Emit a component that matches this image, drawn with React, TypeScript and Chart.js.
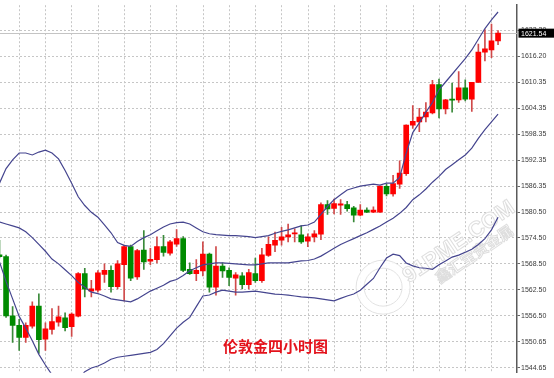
import React, { useEffect, useRef } from "react";
import { Chart, registerables } from "chart.js";

Chart.register(...registerables);

// ---- Data (London gold, 4-hour candles) ----
const opens = [
  1570.71, 1570.31, 1556.76, 1554.53, 1551.76, 1554.37, 1558.99, 1551.36, 1553.63, 1555.26,
  1556.27, 1554.26, 1556.67, 1566.41, 1562.40, 1562.62, 1566.25, 1567.15, 1563.44, 1568.48,
  1572.59, 1565.67, 1571.83, 1569.24, 1569.60, 1572.59, 1571.09, 1573.17, 1574.44, 1567.37,
  1566.41, 1567.01, 1570.87, 1563.29, 1568.13, 1567.15, 1565.36, 1565.90, 1563.89, 1566.41,
  1564.78, 1570.58, 1572.94, 1574.06, 1574.82, 1575.49, 1575.33, 1573.83, 1574.82, 1575.44,
  1582.24, 1581.35, 1582.09, 1582.24, 1581.51, 1579.79, 1580.97, 1580.52, 1580.52, 1586.41,
  1584.69, 1586.92, 1589.31, 1600.46, 1601.19, 1602.31, 1603.27, 1609.73, 1604.16, 1606.39,
  1606.26, 1609.00, 1606.39, 1610.27, 1617.18, 1617.69, 1619.77,
];
const highs = [
  1574.06, 1570.65, 1558.83, 1555.93, 1555.11, 1559.94, 1561.79, 1555.11, 1558.38, 1558.94,
  1557.42, 1557.42, 1566.63, 1567.64, 1564.85, 1567.08, 1568.64, 1568.19, 1569.38, 1572.94,
  1572.94, 1571.98, 1576.29, 1572.21, 1574.82, 1575.17, 1574.06, 1576.51, 1574.88, 1568.86,
  1569.60, 1573.70, 1571.09, 1572.59, 1568.86, 1567.75, 1566.63, 1566.63, 1567.37, 1569.98,
  1572.21, 1574.82, 1575.93, 1577.05, 1577.78, 1576.67, 1577.40, 1575.55, 1576.29, 1582.62,
  1583.13, 1583.51, 1583.36, 1582.98, 1581.86, 1582.24, 1581.51, 1581.73, 1586.48, 1586.92,
  1588.93, 1592.27, 1600.52, 1604.92, 1604.32, 1605.65, 1610.71, 1611.00, 1606.39, 1610.11,
  1612.72, 1610.85, 1610.27, 1619.03, 1622.38, 1623.65, 1622.15,
];
const lows = [
  1569.98, 1556.38, 1550.65, 1548.80, 1550.65, 1553.92, 1548.13, 1548.80, 1552.52, 1554.37,
  1553.26, 1552.03, 1556.49, 1561.06, 1561.06, 1562.17, 1564.40, 1562.17, 1562.91, 1560.17,
  1564.78, 1565.07, 1567.37, 1568.48, 1568.86, 1570.42, 1570.65, 1572.65, 1566.86, 1566.25,
  1564.78, 1565.90, 1562.17, 1561.44, 1565.52, 1563.67, 1561.44, 1562.91, 1562.91, 1564.40,
  1564.40, 1570.36, 1571.47, 1572.94, 1573.70, 1573.70, 1573.32, 1572.59, 1573.70, 1574.21,
  1580.01, 1580.12, 1580.01, 1580.75, 1578.29, 1579.63, 1580.39, 1580.39, 1580.46, 1584.25,
  1584.14, 1585.96, 1588.93, 1599.70, 1598.96, 1601.19, 1603.04, 1602.09, 1603.04, 1603.42,
  1605.65, 1606.03, 1603.58, 1610.27, 1615.17, 1615.91, 1618.88,
];
const closes = [
  1570.27, 1556.71, 1554.53, 1551.76, 1554.53, 1558.99, 1551.25, 1553.77, 1555.42, 1556.49,
  1553.99, 1557.16, 1566.41, 1562.84, 1562.91, 1566.59, 1567.15, 1563.44, 1568.64, 1572.59,
  1565.36, 1571.69, 1569.09, 1569.69, 1572.59, 1571.25, 1573.70, 1574.44, 1567.15, 1566.41,
  1567.15, 1570.87, 1563.29, 1568.13, 1567.01, 1565.52, 1566.12, 1563.89, 1566.63, 1564.78,
  1570.71, 1573.10, 1574.06, 1574.82, 1575.33, 1575.78, 1573.70, 1574.82, 1575.55, 1582.24,
  1581.24, 1582.46, 1582.40, 1581.28, 1579.79, 1580.97, 1580.52, 1580.97, 1586.48, 1584.69,
  1587.08, 1589.44, 1600.46, 1601.35, 1602.31, 1603.42, 1609.73, 1604.16, 1606.26, 1606.17,
  1609.00, 1606.39, 1610.27, 1617.18, 1617.92, 1619.77, 1621.54,
];

// Bollinger bands
const upperBand = [
  1587.15, 1590.49, 1592.50, 1594.06, 1594.06, 1593.61, 1594.28, 1594.73, 1594.06, 1592.72,
  1590.05, 1587.15, 1584.02, 1582.02, 1580.46, 1579.34, 1577.56, 1575.78, 1573.55, 1572.88,
  1572.65, 1573.77, 1574.66, 1575.33, 1576.22, 1577.11, 1577.78, 1578.12, 1578.23, 1577.78,
  1576.89, 1576.00, 1575.55, 1575.33, 1575.22, 1575.11, 1575.11, 1574.99, 1574.88, 1574.66,
  1574.88, 1575.11, 1575.66, 1576.11, 1576.44, 1576.89, 1577.34, 1577.56, 1578.23, 1580.01,
  1581.80, 1583.36, 1584.47, 1585.59, 1586.03, 1586.48, 1586.70, 1586.92, 1586.70, 1587.15,
  1587.15, 1588.48, 1594.06, 1598.74, 1600.97, 1603.42, 1605.65, 1608.55, 1610.34, 1612.12,
  1613.90, 1615.69, 1617.69, 1620.15, 1622.60, 1624.61, 1626.39,
];
const middleBand = [
  1578.23, 1577.78, 1577.34, 1576.89, 1576.00, 1574.66, 1573.10, 1571.54, 1569.75, 1568.64,
  1567.30, 1565.96, 1564.40, 1563.29, 1562.17, 1561.84, 1561.28, 1560.61, 1560.39, 1560.17,
  1559.94, 1560.61, 1561.50, 1562.40, 1563.07, 1563.73, 1564.63, 1565.07, 1565.96, 1567.08,
  1567.75, 1568.42, 1568.64, 1568.86, 1568.86, 1568.75, 1568.64, 1568.53, 1568.42, 1568.42,
  1568.64, 1568.86, 1568.86, 1568.86, 1568.86, 1569.09, 1569.31, 1569.42, 1569.75, 1570.42,
  1571.32, 1572.21, 1573.10, 1573.77, 1574.44, 1575.11, 1575.78, 1576.56, 1577.34, 1578.23,
  1579.12, 1580.23, 1581.57, 1583.36, 1584.47, 1585.81, 1587.37, 1588.70, 1590.27, 1591.38,
  1592.50, 1593.61, 1595.17, 1597.40, 1599.41, 1601.19, 1602.98,
];
const lowerBand = [
  1569.09, 1564.63, 1560.61, 1556.60, 1553.92, 1551.03, 1547.90, 1545.45, 1543.22, 1541.44,
  1540.55, 1540.99, 1542.33, 1543.89, 1544.78, 1545.23, 1545.90, 1546.79, 1547.23, 1547.46,
  1547.68, 1547.90, 1548.13, 1548.35, 1549.02, 1550.36, 1552.14, 1553.92, 1555.26, 1556.38,
  1558.83, 1561.28, 1561.50, 1562.17, 1562.62, 1562.40, 1562.17, 1562.17, 1562.29, 1562.40,
  1562.17, 1561.95, 1561.73, 1561.62, 1561.50, 1561.28, 1561.06, 1560.95, 1560.84, 1560.61,
  1560.39, 1560.17, 1560.72, 1561.28, 1561.73, 1562.62, 1563.96, 1565.30, 1567.75, 1569.98,
  1570.87, 1570.54, 1568.86, 1568.19, 1567.75, 1567.64, 1567.41, 1568.42, 1569.31, 1570.20,
  1570.65, 1571.32, 1571.98, 1573.10, 1574.44, 1576.44, 1579.34,
];

// Right-axis tick labels (top one sits under the current-price box)
const yTickLabels = [
  "1622.20", "1616.20", "1610.35", "1604.35", "1598.35", "1592.35", "1586.35",
  "1580.50", "1574.50", "1568.50", "1562.50", "1556.50", "1550.65", "1544.65",
];
const lastPrice = 1621.54;
const titleText = "伦敦金四小时图";
const watermarkText = "91PME.COM";
const watermarkSubText = "鑫汇宝贵金属";

// ---- Layout / style constants ----
const W = 554;
const H = 378;
const Y_MAX = 1627.95;
const Y_MIN = 1543.67;
const Y_TOP_TICK = 1622.15;
const Y_TICK_STEP = 5.946;
const X_MIN = 0.076;
const X_MAX = 78.89;
const GRID_COLOR = "#c6c6c6";
const BAND_COLOR = "#45458f";
const UP_BODY = "#ff0000";
const DOWN_BODY = "#008a00";
const UP_WICK = "#d04a4a";
const DOWN_WICK = "#3a8a3a";

const overlayPlugin = {
  id: "overlay",
  beforeDatasetsDraw(chart: any) {
    const { ctx, chartArea, scales } = chart;
    const y = Math.round(scales.y.getPixelForValue(lastPrice)) + 0.5;
    ctx.save();
    ctx.strokeStyle = "#c4c4c4";
    ctx.lineWidth = 1;
    ctx.beginPath();
    ctx.moveTo(chartArea.left, y);
    ctx.lineTo(chartArea.right, y);
    ctx.stroke();

    // faint embossed watermark
    const pw = chartArea.right - chartArea.left;
    const ph = chartArea.bottom - chartArea.top;
    const rx = chartArea.left + pw * 0.741;
    const ry = chartArea.top + ph * 0.767;
    ctx.beginPath();
    ctx.arc(rx, ry, 23, 0, Math.PI * 2);
    ctx.lineWidth = 8;
    ctx.strokeStyle = "rgba(255,255,255,0.9)";
    ctx.stroke();
    ctx.lineWidth = 1;
    ctx.strokeStyle = "#e2e2e2";
    ctx.beginPath();
    ctx.arc(rx, ry, 27, 0, Math.PI * 2);
    ctx.stroke();
    ctx.beginPath();
    ctx.arc(rx, ry, 19, 0, Math.PI * 2);
    ctx.stroke();

    ctx.translate(chartArea.left + pw * 0.888, chartArea.top + ph * 0.645);
    ctx.rotate((-34 * Math.PI) / 180);
    ctx.textAlign = "center";
    ctx.textBaseline = "middle";
    ctx.font = "bold 22px 'Liberation Sans'";
    ctx.fillStyle = "rgba(255,255,255,0.85)";
    ctx.fillText(watermarkText, 0, 0);
    ctx.strokeStyle = "#dedede";
    ctx.lineWidth = 1;
    ctx.strokeText(watermarkText, 0, 0);
    ctx.font = "bold 15px 'Noto Sans CJK SC'";
    ctx.fillText(watermarkSubText, 6, 18);
    ctx.strokeText(watermarkSubText, 6, 18);
    ctx.restore();
  },
  afterDraw(chart: any) {
    const { ctx, chartArea, scales, width } = chart;
    const y = scales.y.getPixelForValue(lastPrice);
    ctx.save();
    ctx.fillStyle = "#000000";
    ctx.fillRect(chartArea.right + 1.5, y - 4.5, width - chartArea.right - 1.5, 9);
    ctx.fillStyle = "#ffffff";
    ctx.font = "7px 'Liberation Sans'";
    ctx.textBaseline = "middle";
    ctx.textAlign = "left";
    ctx.fillText(lastPrice.toFixed(2), chartArea.right + 4, y + 0.5);
    // title text inside the plot
    ctx.fillStyle = "#e3121b";
    ctx.font = "bold 15px 'Noto Sans CJK SC'";
    ctx.textAlign = "center";
    ctx.textBaseline = "middle";
    const cx = chartArea.left + (chartArea.right - chartArea.left) * 0.533;
    const cy = chartArea.top + (chartArea.bottom - chartArea.top) * 0.929;
    ctx.fillText(titleText, cx, cy);
    ctx.restore();
  },
};

export default function App() {
  const canvasRef = useRef<HTMLCanvasElement | null>(null);

  useEffect(() => {
    if (!canvasRef.current) return;
    const idx = opens.map((_, i) => i);
    const isUp = (i: number) => closes[i] >= opens[i];

    const bandDataset = (values: number[]) =>
      ({
        type: "line",
        data: idx.map((i) => ({ x: i, y: values[i] })),
        borderColor: BAND_COLOR,
        borderWidth: 1.2,
        pointRadius: 0,
        fill: false,
        tension: 0,
        order: 1,
      } as any);

    const chart = new Chart(canvasRef.current, {
      type: "bar",
      data: {
        datasets: [
          bandDataset(upperBand),
          bandDataset(middleBand),
          bandDataset(lowerBand),
          {
            type: "bar",
            data: idx.map((i) => ({ x: i, y: [lows[i], highs[i]] })),
            backgroundColor: idx.map((i) => (isUp(i) ? UP_WICK : DOWN_WICK)),
            barThickness: 1,
            grouped: false,
            borderWidth: 0,
            order: 3,
          } as any,
          {
            type: "bar",
            data: idx.map((i) => ({ x: i, y: [opens[i], closes[i]] })),
            backgroundColor: idx.map((i) => (isUp(i) ? UP_BODY : DOWN_BODY)),
            barThickness: 5,
            grouped: false,
            borderWidth: 0,
            minBarLength: 1,
            order: 2,
          } as any,
        ],
      },
      options: {
        animation: false,
        responsive: false,
        maintainAspectRatio: false,
        events: [],
        layout: { padding: 0 },
        plugins: {
          legend: { display: false },
          tooltip: { enabled: false },
          title: { display: false },
        },
        scales: {
          x: {
            type: "linear",
            min: X_MIN,
            max: X_MAX,
            offset: false,
            afterBuildTicks: (s: any) => {
              const t = [];
              for (let v = 1.05; v < X_MAX; v += 4) t.push({ value: v });
              s.ticks = t;
            },
            afterFit: (s: any) => {
              s.height = 0;
            },
            ticks: { display: false },
            grid: { color: GRID_COLOR, lineWidth: 1, drawTicks: false },
            border: { display: false, dash: [2, 2] },
          },
          y: {
            type: "linear",
            position: "right",
            min: Y_MIN,
            max: Y_MAX,
            afterBuildTicks: (s: any) => {
              s.ticks = yTickLabels.map((_, k) => ({ value: Y_TOP_TICK - Y_TICK_STEP * k }));
            },
            afterFit: (s: any) => {
              s.width = W - 517;
            },
            ticks: {
              autoSkip: false,
              padding: 1,
              color: "#3a3a3a",
              font: { family: "'Liberation Sans'", size: 7 },
              callback: (_v: any, i: number) => yTickLabels[i],
            },
            grid: {
              color: GRID_COLOR,
              lineWidth: 1,
              drawTicks: true,
              tickLength: 3,
              tickColor: "#666666",
              tickBorderDash: [],
            },
            border: { display: true, color: "#5a5a5a", width: 1.5, dash: [2, 2] },
          },
        },
      } as any,
      plugins: [overlayPlugin],
    });

    return () => chart.destroy();
  }, []);

  return (
    <div style={{ position: "fixed", left: 0, top: 0, width: W, height: H, background: "#ffffff" }}>
      <canvas ref={canvasRef} width={W} height={H} style={{ display: "block", width: W, height: H }} />
    </div>
  );
}
